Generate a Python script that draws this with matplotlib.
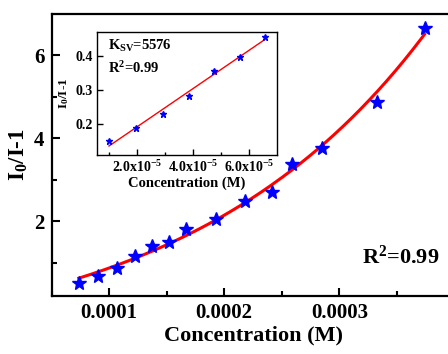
import numpy as np
import matplotlib
matplotlib.use("Agg")
import matplotlib.pyplot as plt
from matplotlib.ticker import FixedLocator, MultipleLocator

plt.rcParams['font.family'] = ['Liberation Serif', 'DejaVu Serif']
plt.rcParams['font.weight'] = 'bold'
plt.rcParams['mathtext.default'] = 'regular'

# ---- data (main plot) ----
conc = [0.0000737, 0.0000907, 0.0001069, 0.0001223, 0.0001376, 0.0001524, 0.0001666,
        0.0001932, 0.0002183, 0.0002418, 0.0002586, 0.0002846, 0.0003326, 0.000374]
ratio = [0.52, 0.68, 0.88, 1.16, 1.41, 1.51, 1.81, 2.06, 2.49, 2.70, 3.38, 3.77, 4.86, 6.66]
main_xticks = [0.0001, 0.0002, 0.0003]
main_xticklabels = ['0.0001', '0.0002', '0.0003']
main_yticks = [2, 4, 6]

# ---- data (inset) ----
conc_in = [1.0e-5, 1.96e-5, 2.92e-5, 3.86e-5, 4.76e-5, 5.67e-5, 6.55e-5]
ratio_in = [0.151, 0.189, 0.231, 0.282, 0.355, 0.397, 0.454]
in_xticks = [2e-5, 4e-5, 6e-5]
in_xticklabels = ['2.0x10$^{-5}$', '4.0x10$^{-5}$', '6.0x10$^{-5}$']
in_yticks = [0.2, 0.3, 0.4]

x = np.array(conc)
y = np.array(ratio)

# exponential growth fit y = y0 + A*exp(k*x), grid search on k
best = None
for k in np.linspace(1000, 20000, 2000):
    e = np.exp(k * x)
    M = np.vstack([np.ones_like(e), e]).T
    coef, res, *_ = np.linalg.lstsq(M, y, rcond=None)
    r = np.sum((M @ coef - y) ** 2)
    if best is None or r < best[0]:
        best = (r, k, coef)
_, kf, cf = best
xf = np.linspace(x.min(), x.max(), 200)
yf = cf[0] + cf[1] * np.exp(kf * xf)

W, H = 448, 354
fig = plt.figure(figsize=(W / 100, H / 100), dpi=100)
ax = fig.add_axes([51.5 / W, 1 - 296 / H, (454.5 - 51.5) / W, (296 - 13.5) / H])
ax.plot(xf, yf, color='red', lw=2.2, zorder=2)
ax.plot(x, y, ls='none', marker='*', ms=10, color='blue', mec='blue', zorder=3)
ax.set_xlim(0.00005, 0.0004)
ax.set_ylim(0.2, 7.0)
ax.xaxis.set_major_locator(FixedLocator(main_xticks))
ax.set_xticklabels(main_xticklabels)
ax.xaxis.set_minor_locator(MultipleLocator(0.00005))
ax.yaxis.set_major_locator(FixedLocator(main_yticks))
ax.yaxis.set_minor_locator(FixedLocator([1, 3, 5]))
ax.tick_params(which='both', direction='in', width=1.5, labelsize=15, pad=5)
ax.tick_params(which='major', length=6)
ax.tick_params(which='minor', length=3.5)
for s in ax.spines.values():
    s.set_linewidth(1.6)
ax.set_xlabel('Concentration (M)', fontsize=16, fontweight='bold', labelpad=2)
ax.set_ylabel('I$_0$/I-1', fontsize=16.5, fontweight='bold', labelpad=3)
ax.text(0.77, 0.138, 'R$^2$=0.99', transform=ax.transAxes, fontsize=16,
        fontweight='bold', va='center', ha='left')

# inset
xi = np.array(conc_in)
yi = np.array(ratio_in)
p = np.polyfit(xi, yi, 1)
xl = np.linspace(xi.min(), xi.max(), 50)
axin = fig.add_axes([97 / W, 1 - 155 / H, (276.7 - 97) / W, (155 - 31.7) / H])
axin.plot(xl, np.polyval(p, xl), color='red', lw=1.0, zorder=2)
axin.plot(xi, yi, ls='none', marker='*', ms=5, color='blue', zorder=3)
axin.set_xlim(0.571e-5, 6.98e-5)
axin.set_ylim(0.1105, 0.470)
axin.xaxis.set_major_locator(FixedLocator(in_xticks))
axin.set_xticklabels(in_xticklabels)
axin.xaxis.set_minor_locator(FixedLocator([1e-5, 3e-5, 5e-5]))
axin.yaxis.set_major_locator(FixedLocator(in_yticks))
axin.tick_params(which='both', direction='in', width=1.0, labelsize=10, pad=3)
axin.tick_params(which='major', length=4)
axin.tick_params(which='minor', length=2.5)
for s in axin.spines.values():
    s.set_linewidth(1.0)
axin.set_xlabel('Concentration (M)', fontsize=10.5, fontweight='bold', labelpad=1)
axin.set_ylabel('I$_0$/I-1', fontsize=9.5, fontweight='bold', labelpad=3)
axin.text(0.063, 0.886, 'K$_{SV}$=5576', transform=axin.transAxes, fontsize=10.5,
          fontweight='bold', va='center', ha='left')
axin.text(0.063, 0.708, 'R$^2$=0.99', transform=axin.transAxes, fontsize=10.5,
          fontweight='bold', va='center', ha='left')

fig.savefig('out.png', dpi=100)
